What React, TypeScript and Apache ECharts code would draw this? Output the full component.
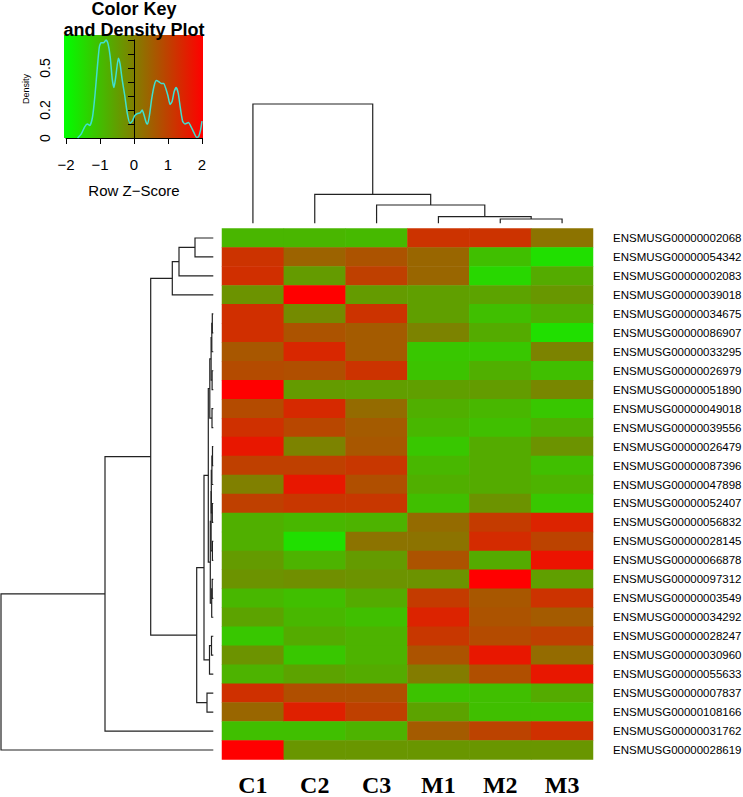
import React, { useEffect, useRef } from 'react';
import * as echarts from 'echarts';

const samples = ['C1', 'C2', 'C3', 'M1', 'M2', 'M3'];

const genes = [
  'ENSMUSG00000002068', 'ENSMUSG00000054342', 'ENSMUSG00000002083', 'ENSMUSG00000039018',
  'ENSMUSG00000034675', 'ENSMUSG00000086907', 'ENSMUSG00000033295', 'ENSMUSG00000026979',
  'ENSMUSG00000051890', 'ENSMUSG00000049018', 'ENSMUSG00000039556', 'ENSMUSG00000026479',
  'ENSMUSG00000087396', 'ENSMUSG00000047898', 'ENSMUSG00000052407', 'ENSMUSG00000056832',
  'ENSMUSG00000028145', 'ENSMUSG00000066878', 'ENSMUSG00000097312', 'ENSMUSG00000003549',
  'ENSMUSG00000034292', 'ENSMUSG00000028247', 'ENSMUSG00000030960', 'ENSMUSG00000055633',
  'ENSMUSG00000007837', 'ENSMUSG00000108166', 'ENSMUSG00000031762', 'ENSMUSG00000028619',
];

// Row z-scores per sample
const C1 = [-0.85, 1.2, 1.26, -0.3, 1.26, 1.26, 0.63, 0.82, 2.0, 0.82, 1.25, 1.64, 1.0, 0.0, 1.0, -0.75, -0.75, -0.43, -0.3, -0.87, -0.55, -1.12, -0.3, -0.8, 1.25, 0.4, -1.0, 2.0];
const C2 = [-0.85, 0.45, -0.43, 2.0, -0.18, 0.7, 1.39, 0.76, -0.43, 1.35, 0.89, -0.05, 1.0, 1.64, 1.14, -0.87, -1.5, -0.8, -0.24, -1.0, -0.87, -0.68, -1.12, -0.55, 0.76, 1.5, -1.0, -0.35];
const C3 = [-0.9, 0.7, 1.0, -0.43, 1.2, 0.57, 0.57, 1.2, -0.48, 0.32, 0.57, 0.63, 1.14, 0.76, 1.14, -0.8, 0.2, -0.43, -0.3, -0.68, -1.0, -0.8, -0.8, -0.68, 0.76, 1.0, -0.8, -0.35];
const M1 = [1.2, 0.4, 0.4, -0.5, -0.5, -0.05, -1.12, -1.06, -0.5, -0.75, -0.87, -1.12, -0.87, -0.75, -1.0, 0.32, 0.2, 0.7, -0.3, 1.07, 1.45, 1.14, 0.7, 0.05, -1.06, -0.55, 0.57, -0.35];
const M2 = [1.2, -1.0, -1.37, -0.55, -1.0, -0.68, -1.12, -0.75, -0.45, -0.87, -1.0, -0.68, -0.68, -0.68, -0.3, 1.07, 1.33, -0.68, 2.0, 0.63, 0.7, 0.82, 1.64, 0.76, -1.0, -1.0, 0.95, -0.35];
const M3 = [0.2, -1.5, -0.68, -0.37, -0.75, -1.5, -0.05, -1.0, -0.12, -1.12, -0.75, -0.3, -1.0, -0.8, -1.12, 1.45, 0.95, 1.7, -0.5, 1.2, 0.57, 1.0, 0.32, 1.64, -0.68, -1.0, 1.25, -0.35];
const sampleValues = [C1, C2, C3, M1, M2, M3];

// hclust-style merges: negative = leaf (1-based), positive = earlier merge (1-based), then height
const columnMerges = [
  [-5, -6, 4.3],
  [-4, 1, 6.6],
  [-3, 2, 18.3],
  [-2, 3, 29],
  [-1, 4, 119.3],
];

const rowMerges = [
  [-1, -2, 18.3],
  [1, -3, 34.3],
  [2, -4, 41],
  [-5, -6, 1.0],
  [4, -7, 1.5],
  [-8, -9, 1.2],
  [5, 6, 2.2],
  [-10, -11, 1.3],
  [7, 8, 3.5],
  [-12, -13, 0.8],
  [10, -14, 1.4],
  [-15, -16, 1.0],
  [11, 12, 2.0],
  [-17, -18, 0.9],
  [-19, -20, 1.1],
  [15, -21, 1.6],
  [13, 14, 2.2],
  [17, 16, 3.0],
  [9, 18, 5.0],
  [-22, -23, 1.8],
  [20, -24, 3.8],
  [19, 21, 9.3],
  [-25, -26, 6.3],
  [22, 23, 16.6],
  [3, 24, 62.6],
  [25, -27, 108.3],
  [26, -28, 212.3],
];

// Density curve of the colour key
const densityX = [-1.66, -1.55, -1.45, -1.37, -1.3, -1.22, -1.15, -1.08, -1.02, -0.97, -0.9, -0.82, -0.76, -0.7, -0.64, -0.59, -0.53, -0.46, -0.41, -0.35, -0.27, -0.2, -0.12, -0.05, 0.02, 0.1, 0.18, 0.24, 0.3, 0.36, 0.4, 0.46, 0.52, 0.6, 0.66, 0.74, 0.8, 0.87, 0.94, 1.0, 1.06, 1.12, 1.18, 1.24, 1.3, 1.36, 1.43, 1.5, 1.6, 1.68, 1.76, 1.84, 1.9, 1.96, 2.0];
const densityY = [0, 0.03, 0.08, 0.1, 0.09, 0.15, 0.3, 0.5, 0.65, 0.68, 0.68, 0.7, 0.67, 0.58, 0.42, 0.36, 0.45, 0.57, 0.53, 0.42, 0.3, 0.18, 0.105, 0.12, 0.16, 0.175, 0.18, 0.2, 0.16, 0.11, 0.1, 0.17, 0.28, 0.38, 0.41, 0.4, 0.39, 0.39, 0.35, 0.3, 0.24, 0.26, 0.33, 0.36, 0.32, 0.22, 0.12, 0.1, 0.11, 0.08, 0.04, 0.005, 0.01, 0.06, 0.12];
const densityYLabels = ['0', '0.2', '0.5'];

function buildDendro(merges: number[][]) {
  const pos: number[] = [];
  const hts: number[] = [];
  const out: number[][] = [];
  merges.forEach(([a, b, h]) => {
    const ga = a < 0 ? [-a - 1, 0] : [pos[a - 1], hts[a - 1]];
    const gb = b < 0 ? [-b - 1, 0] : [pos[b - 1], hts[b - 1]];
    out.push([ga[0], ga[1], gb[0], gb[1], h]);
    pos.push((ga[0] + gb[0]) / 2);
    hts.push(h);
  });
  return out;
}

const FONT = '"Liberation Sans", Arial, sans-serif';

export default function App() {
  const ref = useRef<HTMLDivElement>(null);
  useEffect(() => {
    const chart = echarts.init(ref.current!, null, { renderer: 'svg' });
    const heatData: number[][] = [];
    sampleValues.forEach((arr, ci) => arr.forEach((v, ri) => heatData.push([ci, ri, v])));

    const dendroRender = (orient: 'top' | 'left') => (params: any, api: any) => {
      const p1 = api.value(0), h1 = api.value(1), p2 = api.value(2), h2 = api.value(3), h = api.value(4);
      const pts = orient === 'top'
        ? [[p1, h1], [p1, h], [p2, h], [p2, h2]]
        : [[h1, p1], [h, p1], [h, p2], [h2, p2]];
      return {
        type: 'polyline',
        shape: { points: pts.map((p) => api.coord(p)) },
        style: { stroke: '#222', lineWidth: 1.2, fill: 'none' },
      };
    };

    const minus = (v: number) => String(v).replace('-', '\u2212');

    chart.setOption({
      animation: false,
      backgroundColor: '#fff',
      grid: [
        { left: 222, top: 228.5, width: 371, height: 531, outerBoundsMode: 'none', containLabel: false },
        { left: 222, top: 104, width: 371, height: 119.3, outerBoundsMode: 'none', containLabel: false },
        { left: 1, top: 228.5, width: 212.3, height: 531, outerBoundsMode: 'none', containLabel: false },
        { left: 66, top: 40, width: 136, height: 98, outerBoundsMode: 'none', containLabel: false },
      ],
      xAxis: [
        {
          type: 'category', gridIndex: 0, data: samples, position: 'bottom',
          axisLine: { show: false }, axisTick: { show: false },
          axisLabel: { margin: 13, fontSize: 24, lineHeight: 24, fontWeight: 'bold', color: '#000', fontFamily: '"Liberation Serif", "Times New Roman", serif' },
        },
        { type: 'value', gridIndex: 1, min: -0.5, max: 5.5, show: false },
        { type: 'value', gridIndex: 2, min: 0, max: 212.3, inverse: true, show: false },
        {
          type: 'value', gridIndex: 3, min: -2, max: 2, interval: 1, offset: 2,
          splitLine: { show: false },
          axisLine: { show: true, lineStyle: { color: '#000', width: 1 } },
          axisTick: { show: true, length: 6, lineStyle: { color: '#000' } },
          axisLabel: { margin: 17, fontSize: 15, color: '#000', fontFamily: FONT, formatter: minus },
          name: 'Row Z\u2212Score', nameLocation: 'middle', nameGap: 43,
          nameTextStyle: { fontSize: 15, color: '#000', fontFamily: FONT },
        },
      ],
      yAxis: [
        {
          type: 'category', gridIndex: 0, data: genes, inverse: true, position: 'right',
          axisLine: { show: false }, axisTick: { show: false },
          axisLabel: { margin: 20, fontSize: 11.5, color: '#000', fontFamily: FONT },
        },
        { type: 'value', gridIndex: 1, min: 0, max: 119.3, show: false },
        { type: 'value', gridIndex: 2, min: -0.5, max: 27.5, inverse: true, show: false },
        {
          type: 'value', gridIndex: 3, min: 0, max: 0.7, interval: 0.1, offset: 2,
          splitLine: { show: false },
          axisLine: { show: true, lineStyle: { color: '#000', width: 1 } },
          axisTick: { show: true, length: 6, lineStyle: { color: '#000' } },
          axisLabel: {
            margin: 12, fontSize: 14, color: '#000', fontFamily: FONT, rotate: 90,
            formatter: (v: number) => {
              const s = String(Math.round(v * 10) / 10);
              return densityYLabels.includes(s) ? s : '';
            },
          },
          name: 'Density', nameLocation: 'middle', nameGap: 34,
          nameTextStyle: { fontSize: 9, color: '#000', fontFamily: FONT },
        },
      ],
      visualMap: {
        show: false, type: 'continuous', min: -2, max: 2, seriesIndex: 0,
        inRange: { color: ['#00FF00', '#FF0000'] },
      },
      graphic: [
        {
          type: 'rect', z: 0,
          shape: { x: 64, y: 35, width: 139, height: 103 },
          style: {
            fill: new echarts.graphic.LinearGradient(0, 0, 1, 0, [
              { offset: 0, color: '#00FF00' },
              { offset: 0.5, color: '#808000' },
              { offset: 1, color: '#FF0000' },
            ]),
          },
        },
        {
          type: 'text', x: 134, y: 9,
          style: { text: 'Color Key', fontSize: 18, fontWeight: 'bold', fill: '#000', fontFamily: FONT, align: 'center', verticalAlign: 'middle' },
        },
        {
          type: 'text', x: 134, y: 30,
          style: { text: 'and Density Plot', fontSize: 18, fontWeight: 'bold', fill: '#000', fontFamily: FONT, align: 'center', verticalAlign: 'middle' },
        },
      ],
      series: [
        {
          type: 'heatmap', xAxisIndex: 0, yAxisIndex: 0, data: heatData,
          itemStyle: { borderWidth: 0 },
        },
        {
          type: 'custom', xAxisIndex: 1, yAxisIndex: 1,
          data: buildDendro(columnMerges), renderItem: dendroRender('top'),
        },
        {
          type: 'custom', xAxisIndex: 2, yAxisIndex: 2,
          data: buildDendro(rowMerges), renderItem: dendroRender('left'),
        },
        {
          type: 'line', xAxisIndex: 3, yAxisIndex: 3, z: 5,
          data: densityX.map((x, i) => [x, densityY[i]]),
          showSymbol: false, smooth: 0.2,
          lineStyle: { color: '#40E0D0', width: 1.5 },
        },
      ],
    });
    return () => chart.dispose();
  }, []);
  return <div ref={ref} style={{ position: 'absolute', left: 0, top: 0, width: 743, height: 797 }} />;
}
